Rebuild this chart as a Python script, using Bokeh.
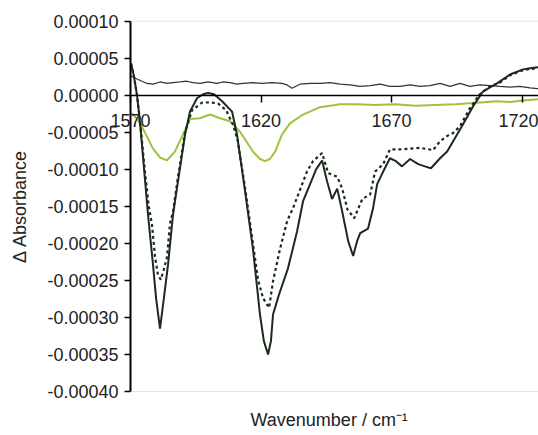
from bokeh.plotting import figure
from bokeh.models import FixedTicker, PrintfTickFormatter, Range1d, BoxAnnotation, Title
from bokeh.embed import file_html
from bokeh.resources import INLINE

# ---- data (wavenumber in cm-1, delta absorbance) ----
wn_solid = [1570.2, 1571.3, 1572.5, 1573.6, 1575.6, 1576.7, 1578.6, 1579.8, 1581.3, 1582.8,
            1584.4, 1586.3, 1588.2, 1590.9, 1592.8, 1595.5, 1597.8, 1599.7, 1602.0, 1605.1,
            1608.9, 1610.8, 1613.9, 1616.9, 1619.6, 1621.1, 1622.7, 1623.8, 1624.6, 1626.9,
            1630.3, 1633.8, 1636.1, 1638.8, 1641.1, 1643.4, 1645.3, 1647.2, 1649.2, 1651.1,
            1653.4, 1655.3, 1656.8, 1658.0, 1661.0, 1662.9, 1664.5, 1666.8, 1669.4, 1671.7,
            1674.0, 1677.1, 1680.2, 1682.8, 1685.1, 1688.6, 1691.3, 1693.6, 1697.4, 1701.2,
            1705.1, 1710.4, 1715.4, 1720.4, 1723.1, 1726.1]
abs_solid = [4.3e-5, 2.6e-5, 0.0, -3.5e-5, -11.6e-5, -16.1e-5, -22.8e-5, -27.4e-5, -31.5e-5, -27.4e-5,
             -22.8e-5, -16.1e-5, -11.6e-5, -5.3e-5, -2.2e-5, -0.4e-5, 0.14e-5, 0.3e-5, 0.14e-5, -0.8e-5,
             -2.2e-5, -5.3e-5, -13.0e-5, -20.7e-5, -29.6e-5, -33.2e-5, -35.0e-5, -33.2e-5, -29.6e-5, -26.9e-5,
             -23.4e-5, -18.4e-5, -14.3e-5, -12.0e-5, -10.0e-5, -8.8e-5, -11.6e-5, -14.0e-5, -12.6e-5, -15.7e-5,
             -19.7e-5, -21.7e-5, -19.7e-5, -18.6e-5, -18.0e-5, -15.3e-5, -12.0e-5, -10.3e-5, -8.5e-5, -8.9e-5,
             -9.6e-5, -8.6e-5, -9.3e-5, -9.6e-5, -9.85e-5, -8.5e-5, -7.6e-5, -6.2e-5, -3.9e-5, -1.5e-5,
             0.54e-5, 1.6e-5, 2.8e-5, 3.5e-5, 3.65e-5, 3.78e-5]

wn_dotted = [1570.2, 1571.3, 1572.5, 1573.6, 1575.6, 1577.0, 1578.2, 1579.4, 1580.5, 1581.6,
             1582.8, 1584.0, 1585.1, 1586.3, 1588.2, 1590.9, 1593.6, 1597.4, 1600.5, 1603.5,
             1606.6, 1609.3, 1611.0, 1613.9, 1616.9, 1618.9, 1620.8, 1623.1, 1624.6, 1627.3,
             1630.0, 1632.3, 1634.9, 1637.6, 1639.9, 1643.4, 1645.7, 1649.2, 1651.1, 1653.1,
             1655.7, 1658.8, 1661.8, 1663.7, 1666.8, 1669.4, 1673.3, 1680.9, 1685.9, 1688.6,
             1691.3, 1693.6, 1696.2, 1700.0, 1703.8, 1707.7, 1711.5, 1715.4, 1720.4, 1726.1]
abs_dotted = [4.3e-5, 2.6e-5, 0.0, -3.3e-5, -10.5e-5, -15.0e-5, -17.4e-5, -21.8e-5, -24.2e-5, -24.9e-5,
              -23.5e-5, -21.8e-5, -17.4e-5, -15.7e-5, -11.0e-5, -5.0e-5, -2.0e-5, -1.0e-5, -0.95e-5, -1.1e-5,
              -2.0e-5, -4.0e-5, -6.0e-5, -12.5e-5, -20.0e-5, -25.0e-5, -27.4e-5, -28.7e-5, -25.1e-5, -20.7e-5,
              -17.0e-5, -15.2e-5, -12.8e-5, -10.3e-5, -8.9e-5, -7.8e-5, -10.5e-5, -11.0e-5, -12.6e-5, -15.4e-5,
              -16.6e-5, -14.0e-5, -13.4e-5, -10.3e-5, -9.3e-5, -7.3e-5, -7.3e-5, -7.1e-5, -7.4e-5, -6.2e-5,
              -5.5e-5, -5.1e-5, -4.2e-5, -1.76e-5, 0.14e-5, 1.2e-5, 1.7e-5, 2.7e-5, 3.4e-5, 3.7e-5]

wn_green = [1570.5, 1572.5, 1574.8, 1578.6, 1581.3, 1583.9, 1587.0, 1590.1, 1592.8, 1596.6,
            1600.5, 1604.3, 1608.1, 1611.9, 1616.9, 1619.6, 1621.5, 1623.4, 1625.4, 1628.0,
            1631.1, 1636.1, 1642.6, 1650.3, 1656.8, 1663.7, 1671.3, 1679.0, 1686.7, 1694.4,
            1701.2, 1710.4, 1715.4, 1720.4, 1726.1]
abs_green = [-2.4e-5, -3.2e-5, -4.5e-5, -7.2e-5, -8.4e-5, -8.8e-5, -7.6e-5, -5.3e-5, -3.2e-5, -3.1e-5,
             -2.6e-5, -3.1e-5, -3.5e-5, -4.9e-5, -7.6e-5, -8.6e-5, -8.9e-5, -8.6e-5, -7.6e-5, -5.3e-5,
             -3.8e-5, -2.6e-5, -1.6e-5, -1.2e-5, -1.2e-5, -1.3e-5, -1.2e-5, -1.4e-5, -1.3e-5, -1.2e-5,
             -1.04e-5, -0.8e-5, -0.9e-5, -0.7e-5, -0.54e-5]

wn_base = [1570.2, 1572.5, 1576.3, 1578.6, 1581.3, 1584.0, 1586.3, 1589.0, 1591.6, 1593.9,
           1596.6, 1599.7, 1603.1, 1605.4, 1608.1, 1610.8, 1613.1, 1616.9, 1620.4, 1624.2,
           1628.0, 1630.0, 1631.9, 1634.9, 1638.8, 1642.6, 1646.4, 1650.3, 1654.1, 1657.9,
           1661.8, 1665.6, 1669.4, 1673.3, 1677.1, 1680.9, 1684.7, 1688.6, 1692.4, 1696.2,
           1700.0, 1703.8, 1707.7, 1711.5, 1715.4, 1719.2, 1723.0, 1726.1]
abs_base = [2.6e-5, 2.2e-5, 1.6e-5, 1.5e-5, 1.8e-5, 1.6e-5, 1.7e-5, 1.8e-5, 1.9e-5, 1.7e-5,
            1.6e-5, 1.8e-5, 1.6e-5, 1.8e-5, 1.7e-5, 1.5e-5, 1.6e-5, 1.7e-5, 1.6e-5, 1.7e-5,
            1.6e-5, 1.4e-5, 0.95e-5, 1.5e-5, 1.6e-5, 1.6e-5, 1.7e-5, 1.5e-5, 1.4e-5, 1.2e-5,
            1.3e-5, 1.5e-5, 1.2e-5, 1.2e-5, 1.4e-5, 1.2e-5, 1.3e-5, 1.6e-5, 1.2e-5, 1.6e-5,
            1.2e-5, 1.4e-5, 1.3e-5, 1.2e-5, 1.1e-5, 1.2e-5, 1.0e-5, 0.9e-5]

x_ticks = [1570, 1620, 1670, 1720]
y_ticks = [0.0001, 0.00005, 0.0, -0.00005, -0.0001, -0.00015, -0.0002,
           -0.00025, -0.0003, -0.00035, -0.0004]
X_MIN, X_MAX = 1570, 1726.3      # wavenumber axis extent
Y_MIN, Y_MAX = -0.0004, 0.0001   # absorbance axis extent

FONT = "Liberation Sans"
DARK = "#1b2a1b"
GREEN = "#9cc43c"
TXT = "#222222"

# the frame covers the whole canvas (plus margin for the axis texts);
# the axes are pinned at X_MIN and at 0 so that no tick text is cut
p = figure(width=538, height=435, output_backend="svg", toolbar_location=None,
           x_range=Range1d(1520.2, X_MAX), y_range=Range1d(-0.0004135, 0.000128),
           min_border_left=0, min_border_right=0, min_border_top=0, min_border_bottom=34,
           background_fill_color="white", border_fill_color="white")
p.grid.visible = False
p.outline_line_color = None

# plot-area border (grey top/bottom lines; the left edge is under the y axis)
p.add_layout(BoxAnnotation(left=X_MIN, top=Y_MAX, bottom=Y_MIN, fill_color=None,
                           line_color="#a0a0a0", line_width=1, level="underlay"))

# y axis pinned at x = 1570
ya = p.yaxis[0]
ya.fixed_location = X_MIN
ya.bounds = (Y_MIN, Y_MAX)
ya.ticker = FixedTicker(ticks=y_ticks)
ya.formatter = PrintfTickFormatter(format="%.5f")
ya.major_tick_in = 0
ya.major_tick_out = 6
ya.minor_tick_line_color = None
ya.axis_line_color = "black"
ya.axis_line_width = 2
ya.major_tick_line_color = "black"
ya.major_tick_line_width = 1.5
ya.major_label_text_font = FONT
ya.major_label_text_font_size = "18px"
ya.major_label_text_color = TXT
ya.major_label_standoff = 6
ya.axis_label = "Δ Absorbance"
ya.axis_label_text_font = FONT
ya.axis_label_text_font_size = "18px"
ya.axis_label_text_font_style = "normal"
ya.axis_label_text_color = TXT
ya.axis_label_standoff = 14

# x axis pinned at y = 0
xa = p.xaxis[0]
xa.fixed_location = 0
xa.bounds = (X_MIN, X_MAX)
xa.ticker = FixedTicker(ticks=x_ticks)
xa.major_tick_in = 0
xa.major_tick_out = 7
xa.minor_tick_line_color = None
xa.axis_line_color = "black"
xa.axis_line_width = 1.5
xa.major_tick_line_color = "black"
xa.major_tick_line_width = 1.5
xa.major_label_text_font = FONT
xa.major_label_text_font_size = "18px"
xa.major_label_text_color = TXT
xa.major_label_standoff = 12

# x title below the plot, under the data area
p.add_layout(Title(text="Wavenumber / cm⁻¹", align="left", offset=250, standoff=12,
                   text_font=FONT, text_font_size="18px", text_font_style="normal",
                   text_color=TXT), "below")

p.line(wn_base, abs_base, line_color="#333333", line_width=1.2)
p.line(wn_green, abs_green, line_color=GREEN, line_width=2)
p.line(wn_dotted, abs_dotted, line_color=DARK, line_width=2.2, line_dash="3 3")
p.line(wn_solid, abs_solid, line_color=DARK, line_width=2)

open("out.html", "w").write(file_html(p, INLINE))
